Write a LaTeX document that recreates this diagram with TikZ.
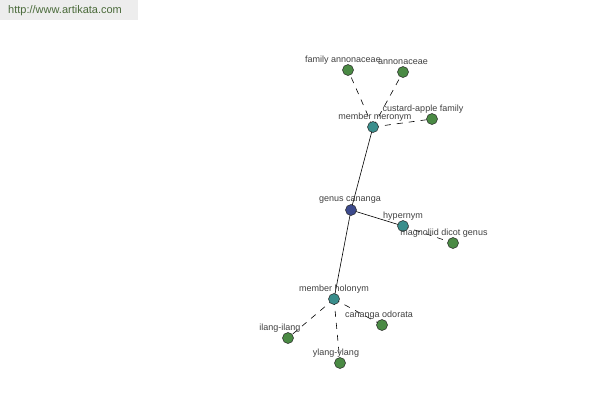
\documentclass[tikz,border=0pt]{standalone}
\usepackage{fontspec}
\setmainfont{Liberation Sans}
\definecolor{leafc}{HTML}{4A8A44}
\definecolor{relc}{HTML}{3A8E8C}
\definecolor{rootc}{HTML}{3C4A8C}
\definecolor{urlc}{HTML}{4A6A3A}
\begin{document}
\begin{tikzpicture}[x=1pt,y=-1pt,
  dot/.style={circle,draw=black!85,line width=0.5pt,minimum size=11pt,inner sep=0pt},
  leaf/.style={dot,fill=leafc},
  rel/.style={dot,fill=relc},
  root/.style={dot,fill=rootc},
  lbl/.style={font=\fontsize{9}{10}\selectfont,text=black!75,inner sep=0pt},
  solidedge/.style={draw=black,line width=0.6pt},
  dashedge/.style={draw=black,line width=0.6pt,dashed,dash pattern=on 6pt off 6pt}]
\useasboundingbox (0,0) rectangle (600,400);
\fill[black!7] (0,0) rectangle (138,20);
\node[anchor=west,font=\fontsize{11}{12}\selectfont,text=urlc,inner sep=0pt] (url) at (8,11) {http://www.artikata.com};
% edges
\coordinate (gcc) at (351,210);
\coordinate (mmc) at (373,127);
\coordinate (hyc) at (403,226);
\coordinate (mhc) at (334,299);
\coordinate (fac) at (348,70);
\coordinate (anc) at (403,72);
\coordinate (cac) at (432,119);
\coordinate (mdc) at (453,243);
\coordinate (coc) at (382,325);
\coordinate (ilc) at (288,338);
\coordinate (ylc) at (340,363);
\path[solidedge] (gcc) -- (mmc);
\path[solidedge] (gcc) -- (hyc);
\path[solidedge] (gcc) -- (mhc);
\path[dashedge] (mmc) -- (fac);
\path[dashedge] (mmc) -- (anc);
\path[dashedge] (mmc) -- (cac);
\path[dashedge] (hyc) -- (mdc);
\path[dashedge] (mhc) -- (coc);
\path[dashedge] (mhc) -- (ilc);
\path[dashedge] (mhc) -- (ylc);
% nodes
\node[root] (gc) at (gcc) {};
\node[rel] (mm) at (mmc) {};
\node[rel] (hy) at (hyc) {};
\node[rel] (mh) at (mhc) {};
\node[leaf] (fa) at (fac) {};
\node[leaf] (an) at (anc) {};
\node[leaf] (ca) at (cac) {};
\node[leaf] (md) at (mdc) {};
\node[leaf] (co) at (coc) {};
\node[leaf] (il) at (ilc) {};
\node[leaf] (yl) at (ylc) {};
% labels
\node[lbl] (lfa) at (343,60) {family annonaceae};
\node[lbl] (lan) at (403,62) {annonaceae};
\node[lbl] (lca) at (423,109) {custard-apple family};
\node[lbl] (lmm) at (375,117) {member meronym};
\node[lbl] (lgc) at (350,200) {genus cananga};
\node[lbl] (lhy) at (403,216) {hypernym};
\node[lbl] (lmd) at (444,233) {magnoliid dicot genus};
\node[lbl] (lmh) at (334,289) {member holonym};
\node[lbl] (lco) at (379,315) {cananga odorata};
\node[lbl] (lil) at (280,328) {ilang-ilang};
\node[lbl] (lyl) at (336,353) {ylang-ylang};
\end{tikzpicture}
\end{document}
